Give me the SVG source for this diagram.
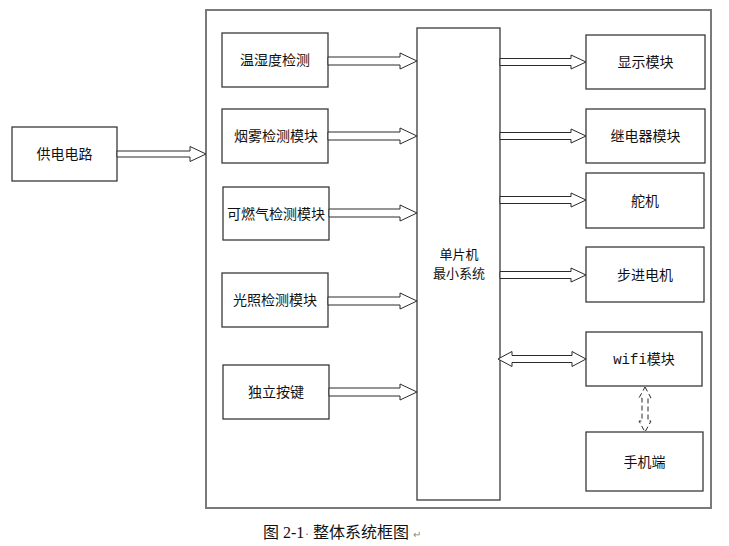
<svg xmlns="http://www.w3.org/2000/svg" width="729" height="546" viewBox="0 0 729 546">
<style>
.box{fill:#fff;stroke:#3a3a3a;stroke-width:1.3}
.outer{fill:#fff;stroke:#7a7a7a;stroke-width:2}
.arr{fill:#fff;stroke:#2a2a2a;stroke-width:1}
.dash{fill:none;stroke:#2a2a2a;stroke-width:1;stroke-dasharray:5,3}
.t{font-family:"Noto Sans CJK SC","Liberation Sans",sans-serif;font-size:14px;fill:#111;text-anchor:middle}
.s{font-family:"Noto Sans CJK SC","Liberation Sans",sans-serif;font-size:13px;fill:#111;text-anchor:middle}
.m{font-family:"Liberation Mono","Noto Sans CJK SC",monospace;font-size:14px;fill:#111;text-anchor:middle}
.cap{font-family:"Liberation Serif","Noto Sans CJK SC",serif;font-size:16px;fill:#111}
</style>
<rect width="729" height="546" fill="#fff"/>
<rect id="system" class="outer" x="206" y="10" width="505" height="498"/>
<g id="power"><rect class="box" x="12" y="127" width="105" height="54"/><text class="t" x="64.5" y="159">供电电路</text></g>
<g id="temp"><rect class="box" x="222" y="33" width="106" height="54"/><text class="t" x="275" y="65">温湿度检测</text></g>
<g id="smoke"><rect class="box" x="222" y="109" width="106" height="54"/><text class="t" x="276" y="141">烟雾检测模块</text></g>
<g id="gas"><rect class="box" x="223" y="187" width="106" height="53"/><text class="t" x="276" y="218.5">可燃气检测模块</text></g>
<g id="light"><rect class="box" x="222" y="273" width="106" height="54"/><text class="t" x="275" y="305">光照检测模块</text></g>
<g id="key"><rect class="box" x="223" y="365" width="106" height="54"/><text class="t" x="276" y="397">独立按键</text></g>
<g id="mcu"><rect class="box" x="417" y="28" width="83" height="472"/><text class="s" x="459" y="259">单片机</text><text class="s" x="459" y="278">最小系统</text></g>
<g id="display"><rect class="box" x="586" y="35" width="119" height="54"/><text class="t" x="645.5" y="67">显示模块</text></g>
<g id="relay"><rect class="box" x="586" y="109" width="119" height="54"/><text class="t" x="645.5" y="141">继电器模块</text></g>
<g id="servo"><rect class="box" x="586" y="173" width="118" height="55"/><text class="t" x="645" y="205.5">舵机</text></g>
<g id="stepper"><rect class="box" x="586" y="247" width="118" height="55"/><text class="t" x="645" y="279.5">步进电机</text></g>
<g id="wifi"><rect class="box" x="586" y="332" width="116" height="54"/><text class="m" x="644" y="364">wifi模块</text></g>
<g id="phone"><rect class="box" x="586" y="432" width="117" height="59"/><text class="t" x="644.5" y="466.5">手机端</text></g>
<g id="connectors">
<path class="arr" d="M117,151 H190 V146.5 L206,154 L190,161.5 V157 H117 Z"/>
<path class="arr" d="M328,57 H400 V53 L417,61 L400,69 V65 H328 Z"/>
<path class="arr" d="M328,132 H400 V128 L417,136 L400,144 V140 H328 Z"/>
<path class="arr" d="M329,209 H400 V205 L417,213 L400,221 V217 H329 Z"/>
<path class="arr" d="M328,297 H400 V293 L417,301 L400,309 V305 H328 Z"/>
<path class="arr" d="M329,388 H400 V384 L417,392 L400,400 V396 H329 Z"/>
<path class="arr" d="M500,58.5 H571 V55 L586,62 L571,69 V65.5 H500 Z"/>
<path class="arr" d="M500,132.5 H571 V129 L586,136 L571,143 V139.5 H500 Z"/>
<path class="arr" d="M500,196.5 H571 V193 L586,200 L571,207 V203.5 H500 Z"/>
<path class="arr" d="M500,271.5 H571 V268 L586,275 L571,282 V278.5 H500 Z"/>
<path class="arr" d="M498,359 L512,351.5 V355.5 H572 V351.5 L586,359 L572,366.5 V362.5 H512 V366.5 Z"/>
<path class="dash" d="M645,387 L651,398 H648 V421 H651 L645,432 L639,421 H642 V398 H639 Z"/>
</g>
<text class="cap" y="538"><tspan x="263">图</tspan><tspan x="283">2-1</tspan><tspan x="305" fill="#666" font-size="12">·</tspan><tspan x="313">整体系统框图</tspan><tspan x="413" fill="#888" font-size="10">↵</tspan></text>
</svg>
